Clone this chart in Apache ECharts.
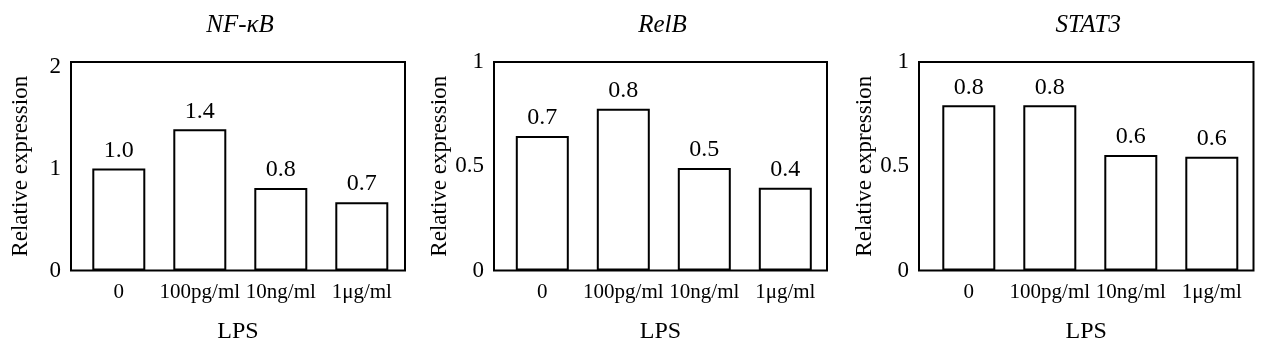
<!DOCTYPE html>
<html>
<head>
<meta charset="utf-8">
<script src="https://cdn.jsdelivr.net/npm/echarts@6/dist/echarts.min.js"></script>
<style>html,body{margin:0;padding:0;background:#fff;}#c{width:1266px;height:355px;}</style>
</head>
<body>
<div id="c"></div>
<script>
// ---- data ----
const categories = ['0', '100pg/ml', '10ng/ml', '1\u03bcg/ml'];
const titles = ['NF-\u03baB', 'RelB', 'STAT3'];
const nfkbValues = [1.0, 1.385, 0.81, 0.67];
const relbValues = [0.645, 0.776, 0.492, 0.397];
const stat3Values = [0.792, 0.792, 0.554, 0.546];
const nfkbLabels = ['1.0', '1.4', '0.8', '0.7'];
const relbLabels = ['0.7', '0.8', '0.5', '0.4'];
const stat3Labels = ['0.8', '0.8', '0.6', '0.6'];
const nfkbTicks = [0, 1, 2];
const relbTicks = [0, 0.5, 1];
const stat3Ticks = [0, 0.5, 1];
const yTitle = 'Relative expression';
const xTitle = 'LPS';

const panels = [
  {values: nfkbValues, labels: nfkbLabels, ticks: nfkbTicks, max: 2.045, step: 1, frameLeft: 71, frameWidth: 334, dataLeft: 78.3},
  {values: relbValues, labels: relbLabels, ticks: relbTicks, max: 1, step: 0.5, frameLeft: 494, frameWidth: 333, dataLeft: 501.8},
  {values: stat3Values, labels: stat3Labels, ticks: stat3Ticks, max: 1, step: 0.5, frameLeft: 919, frameWidth: 334.5, dataLeft: 928.3}
];

const FONT = '"Liberation Serif", "Times New Roman", serif';
const TOP = 62, BOTTOM = 84.5;

const grid = [], xAxis = [], yAxis = [], series = [], graphic = [];
panels.forEach((p, i) => {
  const fg = grid.length;
  grid.push({left: p.frameLeft, width: p.frameWidth, top: TOP, bottom: BOTTOM, show: true, borderColor: '#000', borderWidth: 2, backgroundColor: 'transparent', containLabel: false});
  const dg = grid.length;
  grid.push({left: p.dataLeft, width: 324, top: TOP, bottom: BOTTOM, show: false, containLabel: false});
  // frame axes
  xAxis.push({gridIndex: fg, type: 'value', min: 0, max: 1, axisLine: {show: false}, axisTick: {show: false}, axisLabel: {show: false}, splitLine: {show: false},
    name: xTitle, nameLocation: 'middle', nameGap: 49, nameTextStyle: {fontFamily: FONT, fontSize: 24, color: '#000'}});
  yAxis.push({gridIndex: fg, type: 'value', min: 0, max: p.max, interval: p.step, axisLine: {show: false}, axisTick: {show: false}, splitLine: {show: false},
    axisLabel: {margin: 10, fontFamily: FONT, fontSize: 23, color: '#000', formatter: v => p.ticks.some(t => Math.abs(t - v) < 1e-9) ? String(v) : ''},
    name: yTitle, nameLocation: 'middle', nameGap: 39, nameTextStyle: {fontFamily: FONT, fontSize: 23, color: '#000'}});
  // data axes
  const xi = xAxis.length;
  xAxis.push({gridIndex: dg, type: 'category', data: categories, axisLine: {show: false}, axisTick: {show: false}, splitLine: {show: false},
    axisLabel: {interval: 0, margin: 11, fontFamily: FONT, fontSize: 21, color: '#000'}});
  const yi = yAxis.length;
  yAxis.push({gridIndex: dg, type: 'value', min: 0, max: p.max, show: false, splitLine: {show: false}});
  series.push({type: 'bar', xAxisIndex: xi, yAxisIndex: yi, data: p.values, barWidth: 53,
    itemStyle: {color: '#fff', borderColor: '#000', borderWidth: 2},
    label: {show: true, position: 'top', distance: 6, fontFamily: FONT, fontSize: 24, color: '#000', formatter: d => p.labels[d.dataIndex]},
    silent: true, animation: false});
  graphic.push({type: 'text', x: p.frameLeft + p.frameWidth / 2 + 2, y: 25,
    style: {text: titles[i], align: 'center', verticalAlign: 'middle', fontFamily: FONT, fontStyle: 'italic', fontSize: 25, fill: '#000'}});
});

const chart = echarts.init(document.getElementById('c'), null, {renderer: 'canvas'});
chart.setOption({backgroundColor: '#fff', animation: false, grid, xAxis, yAxis, series, graphic});
</script>
</body>
</html>
